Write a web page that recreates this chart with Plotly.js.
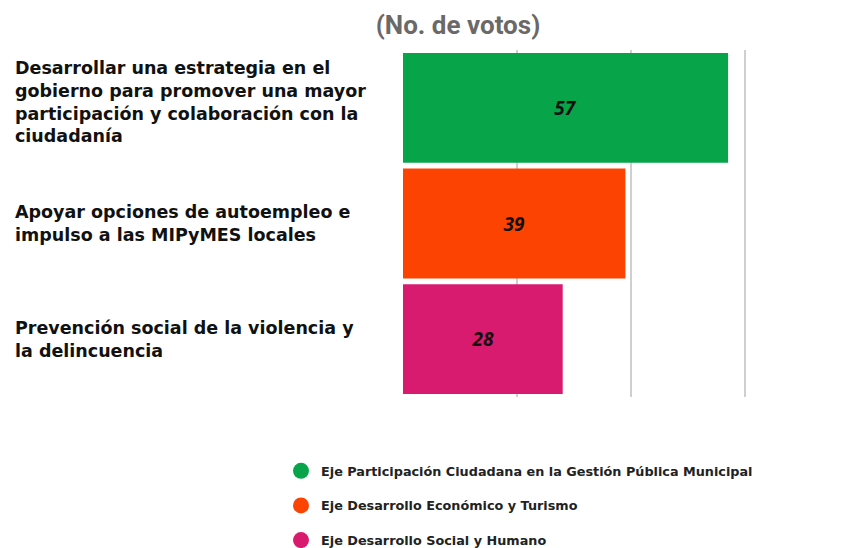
<!DOCTYPE html>
<html><head><meta charset="utf-8">
<script src="https://cdn.plot.ly/plotly-3.0.1.min.js"></script>
<style>html,body{margin:0;padding:0;background:#fff;}#chart{width:851px;height:548px;}</style>
</head><body><div id="chart"></div>
<script>
const categories = [
  "Desarrollar una estrategia en el<br>gobierno para promover una mayor<br>participación y colaboración con la<br>ciudadanía",
  "Apoyar opciones de autoempleo e<br>impulso a las MIPyMES locales",
  "Prevención social de la violencia y<br>la delincuencia"
];
const votes = [57, 39, 28];
const barColors = ["#08a44a", "#fd4302", "#d81b6f"];
const axisNames = [
  "Eje Participación Ciudadana en la Gestión Pública Municipal",
  "Eje Desarrollo Económico y Turismo",
  "Eje Desarrollo Social y Humano"
];
const chartTitle = "(No. de votos)";

const L = 403, R = 83, T = 50, B = 151, W = 851, H = 548;
const pw = W - L - R, ph = H - T - B;
const px2x = p => (p - L) / pw;
const px2y = p => (H - B - p) / ph;

const traces = [{
  type: "bar", orientation: "h",
  y: categories, x: votes,
  marker: {color: barColors},
  text: votes.map(String),
  textposition: "inside", insidetextanchor: "middle",
  textfont: {family: "'Open Sans', sans-serif", size: 19, color: "#111", weight: "bold", style: "italic"},
  showlegend: false, hoverinfo: "none"
}];
axisNames.forEach((n, i) => {
  traces.push({
    type: "scatter", mode: "markers", x: [null], y: [null], name: n,
    legendgroup: "g" + i,
    marker: {symbol: "circle", size: 16, color: barColors[i]},
    showlegend: true
  });
});

const labelShift = [6, 0, 0];
const annotations = categories.map((c, i) => ({
  xref: "paper", yref: "y", x: px2x(13), y: c, yshift: labelShift[i],
  xanchor: "left", yanchor: "middle", align: "left",
  text: c, showarrow: false,
  font: {family: "'DejaVu Sans', sans-serif", size: 17.5, color: "#111", weight: "bold"}
}));

const layout = {
  width: W, height: H,
  margin: {l: L, r: R, t: T, b: B, autoexpand: false},
  paper_bgcolor: "#fff", plot_bgcolor: "#fff",
  title: {
    text: chartTitle, xref: "container", yref: "container",
    x: 458 / W, y: 1 - 25 / H, xanchor: "center", yanchor: "middle",
    font: {family: "Roboto, sans-serif", size: 26, color: "#6b6868", weight: "bold"}
  },
  xaxis: {range: [0, 64], dtick: 20, tick0: 0, showgrid: true, gridcolor: "#cfcfcf", gridwidth: 1.5,
          zeroline: false, showticklabels: false, ticks: "", showline: false, fixedrange: true},
  yaxis: {type: "category", autorange: "reversed", showticklabels: false, ticks: "", showgrid: false,
          zeroline: false, showline: false},
  bargap: 0.05,
  showlegend: true,
  legend: {
    x: px2x(281), y: px2y(456), xanchor: "left", yanchor: "top",
    traceorder: "grouped", tracegroupgap: 15,
    font: {family: "'DejaVu Sans', sans-serif", size: 12.8, color: "#222", weight: "bold"},
    bgcolor: "rgba(0,0,0,0)"
  },
  annotations: annotations
};
Plotly.newPlot("chart", traces, layout, {displayModeBar: false, staticPlot: true});
</script></body></html>
